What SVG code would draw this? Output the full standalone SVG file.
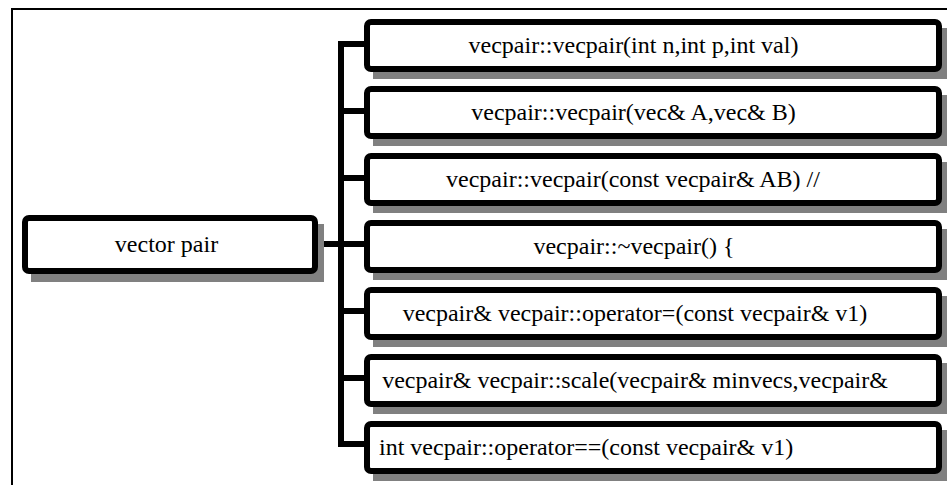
<svg xmlns="http://www.w3.org/2000/svg" width="947" height="485" viewBox="0 0 947 485">
  <style>
    .shadow { fill: #808080; }
    .box { fill: #ffffff; stroke: #000000; stroke-width: 6; }
    .label { font-size: 24px; fill: #000000; }
    .wire { fill: none; stroke: #000000; stroke-width: 6; stroke-linejoin: miter; stroke-linecap: butt; }
  </style>
  <rect x="0" y="0" width="947" height="485" fill="#ffffff"/>
  <!-- outer frame -->
  <path d="M12,490 V9 H950" fill="none" stroke="#000000" stroke-width="2"/>

  <!-- connectors -->
  <g id="connectors">
    <path class="wire" d="M318,244 H341"/>
    <path class="wire" d="M364,44 H341 V444 H364"/>
    <path class="wire" d="M341,111 H364"/>
    <path class="wire" d="M341,178 H364"/>
    <path class="wire" d="M341,244 H364"/>
    <path class="wire" d="M341,311 H364"/>
    <path class="wire" d="M341,378 H364"/>
  </g>

  <g font-family="Liberation Serif, DejaVu Serif, serif">
    <!-- root node -->
    <g id="vector-pair">
      <rect class="shadow" x="31" y="224" width="293" height="58"/>
      <rect class="box" x="25" y="218" width="290" height="53" rx="4"/>
      <text class="label" x="166.5" y="252" text-anchor="middle">vector pair</text>
    </g>

    <g id="ctor-int">
      <rect class="shadow" x="373" y="28" width="580" height="51"/>
      <rect class="box" x="367" y="22" width="572" height="47" rx="4"/>
      <text class="label" x="633.5" y="53" text-anchor="middle">vecpair::vecpair(int n,int p,int val)</text>
    </g>

    <g id="ctor-vec">
      <rect class="shadow" x="373" y="95" width="580" height="51"/>
      <rect class="box" x="367" y="89" width="572" height="47" rx="4"/>
      <text class="label" x="633.5" y="120" text-anchor="middle">vecpair::vecpair(vec&amp; A,vec&amp; B)</text>
    </g>

    <g id="ctor-copy">
      <rect class="shadow" x="373" y="162" width="580" height="51"/>
      <rect class="box" x="367" y="156" width="572" height="47" rx="4"/>
      <text class="label" x="633" y="187" text-anchor="middle">vecpair::vecpair(const vecpair&amp; AB) //</text>
    </g>

    <g id="dtor">
      <rect class="shadow" x="373" y="229" width="580" height="51"/>
      <rect class="box" x="367" y="223" width="572" height="47" rx="4"/>
      <text class="label" x="634" y="254" text-anchor="middle">vecpair::~vecpair() {</text>
    </g>

    <g id="op-assign">
      <rect class="shadow" x="373" y="296" width="580" height="51"/>
      <rect class="box" x="367" y="290" width="572" height="47" rx="4"/>
      <text class="label" x="635" y="321" text-anchor="middle">vecpair&amp; vecpair::operator=(const vecpair&amp; v1)</text>
    </g>

    <g id="scale">
      <rect class="shadow" x="373" y="363" width="580" height="51"/>
      <rect class="box" x="367" y="357" width="572" height="47" rx="4"/>
      <text class="label" x="635" y="388" text-anchor="middle">vecpair&amp; vecpair::scale(vecpair&amp; minvecs,vecpair&amp;</text>
    </g>

    <g id="op-equal">
      <rect class="shadow" x="373" y="430" width="580" height="51"/>
      <rect class="box" x="367" y="424" width="572" height="47" rx="4"/>
      <text class="label" x="379" y="455">int vecpair::operator==(const vecpair&amp; v1)</text>
    </g>
  </g>
</svg>
